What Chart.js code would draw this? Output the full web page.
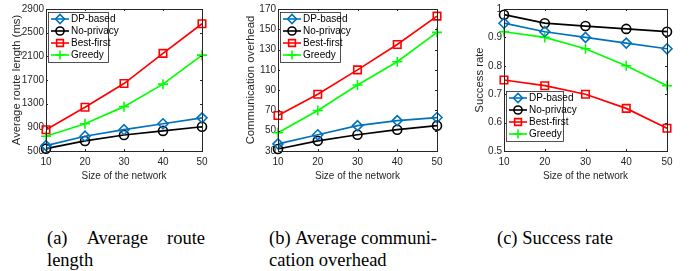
<!DOCTYPE html>
<html><head><meta charset="utf-8">
<script src="https://cdn.jsdelivr.net/npm/chart.js@4"></script>
<style>
html,body{margin:0;padding:0;background:#fff;width:693px;height:271px;overflow:hidden;}
.c{position:absolute;top:0;width:231px;height:200px;}
.cap{position:absolute;font-family:"Liberation Serif","Times New Roman",serif;font-size:18.5px;line-height:22px;color:#000;}
.l1{display:flex;justify-content:space-between;white-space:nowrap;}
</style></head><body>
<div class="c" style="left:0"><canvas id="c1" width="231" height="200"></canvas></div>
<div class="c" style="left:231px"><canvas id="c2" width="231" height="200"></canvas></div>
<div class="c" style="left:462px"><canvas id="c3" width="231" height="200"></canvas></div>
<div class="cap" style="left:47px;top:227px;width:158px"><div class="l1"><span>(a)</span><span>Average</span><span>route</span></div><div>length</div></div>
<div class="cap" style="left:269px;top:227px;width:168px"><div class="l1"><span>(b)</span><span>Average</span><span>communi-</span></div><div>cation overhead</div></div>
<div class="cap" style="left:497px;top:227px;width:170px"><div>(c) Success rate</div></div>
<script>
const networkSizes = [10, 20, 30, 40, 50];
const seriesNames = ['DP-based', 'No-privacy', 'Best-first', 'Greedy'];

const routeDP = [590, 750, 860, 960, 1060];
const routeNoPrivacy = [540, 670, 770, 840, 910];
const routeBestFirst = [860, 1240, 1640, 2150, 2650];
const routeGreedy = [750, 960, 1250, 1630, 2120];

const commDP = [37, 46, 55, 60, 63];
const commNoPrivacy = [32, 40, 46, 51, 55];
const commBestFirst = [65, 86, 110, 135, 163];
const commGreedy = [48, 70, 95, 118, 147];

const succDP = [0.95, 0.92, 0.90, 0.88, 0.86];
const succNoPrivacy = [0.98, 0.95, 0.94, 0.93, 0.92];
const succBestFirst = [0.75, 0.73, 0.70, 0.65, 0.58];
const succGreedy = [0.92, 0.90, 0.86, 0.80, 0.73];

const routeTicks = [500, 900, 1300, 1700, 2100, 2500, 2900];
const commTicks = [30, 50, 70, 90, 110, 130, 150, 170];
const succTicks = [0.5, 0.6, 0.7, 0.8, 0.9, 1];

const styles = [
  {color:'#0072BD', pointStyle:'rectRot', radius:5},
  {color:'#000000', pointStyle:'circle', radius:4.5},
  {color:'#FF0000', pointStyle:'rect', radius:5.3},
  {color:'#00FF00', pointStyle:'cross', radius:5}
];
const AX = '#262626';
const FONT = '"Liberation Sans", Arial, sans-serif';

function makeDatasets(arrs){
  return arrs.map((a,i)=>({
    label: seriesNames[i],
    data: networkSizes.map((x,j)=>({x:x,y:a[j]})),
    borderColor: styles[i].color,
    backgroundColor: 'rgba(0,0,0,0)',
    pointBackgroundColor: 'rgba(0,0,0,0)',
    pointBorderColor: styles[i].color,
    pointStyle: styles[i].pointStyle,
    pointRadius: styles[i].radius,
    pointBorderWidth: 1.6,
    borderWidth: 1.7,
    tension: 0,
    clip: false
  }));
}

const framePlugin = {
  id:'frame',
  afterDatasetsDraw(chart, args, opts){
    const ctx = chart.ctx, a = chart.chartArea;
    ctx.save();
    ctx.strokeStyle = AX; ctx.lineWidth = 1;
    ctx.strokeRect(Math.round(a.left)+0.5, Math.round(a.top)+0.5, Math.round(a.right-a.left), Math.round(a.bottom-a.top));
    const xs = chart.scales.x, ys = chart.scales.y;
    ctx.beginPath();
    xs.ticks.forEach(t=>{const p=Math.round(xs.getPixelForValue(t.value))+0.5; ctx.moveTo(p,a.bottom); ctx.lineTo(p,a.bottom-2); ctx.moveTo(p,a.top); ctx.lineTo(p,a.top+2);});
    ys.ticks.forEach(t=>{const p=Math.round(ys.getPixelForValue(t.value))+0.5; ctx.moveTo(a.left,p); ctx.lineTo(a.left+2,p); ctx.moveTo(a.right,p); ctx.lineTo(a.right-2,p);});
    ctx.stroke();
    const L = opts.legend;
    const bx = Math.round(a.left + L.dx), by = Math.round(L.bottom ? a.bottom - L.dy - L.h : a.top + L.dy);
    ctx.fillStyle = '#fff';
    ctx.fillRect(bx, by, L.w, L.h);
    ctx.strokeStyle = AX; ctx.lineWidth = 0.8;
    ctx.strokeRect(bx+0.5, by+0.5, L.w, L.h);
    ctx.font = '10px ' + FONT;
    ctx.textBaseline = 'middle';
    chart.data.datasets.forEach((ds,i)=>{
      const y = by + L.pad + L.gap*i + L.gap/2;
      const x0 = bx + 3, x1 = bx + 21;
      ctx.strokeStyle = ds.borderColor; ctx.lineWidth = 1.6;
      ctx.beginPath(); ctx.moveTo(x0,y); ctx.lineTo(x1,y); ctx.stroke();
      ctx.fillStyle = 'rgba(0,0,0,0)';
      Chart.helpers.drawPoint(ctx, {pointStyle: ds.pointStyle, radius: ds.pointRadius*0.9, borderWidth:1.6, rotation:0}, (x0+x1)/2, y);
      ctx.fillStyle = '#000';
      ctx.fillText(ds.label, x1 + 2, y+0.5);
    });
    ctx.restore();
  }
};

function makeChart(id, arrs, ticks, ymin, ymax, ytitle, padLeft, padRight, legend, titlePad){
  return new Chart(document.getElementById(id), {
    type:'line',
    data:{datasets: makeDatasets(arrs)},
    options:{
      responsive:false, animation:false, devicePixelRatio:1,
      layout:{padding:{top:9, right:padRight, left:0, bottom:0}},
      plugins:{legend:{display:false}, tooltip:{enabled:false}, frame:{legend:legend}},
      scales:{
        x:{type:'linear', min:10, max:50, offset:false,
           afterBuildTicks(s){ s.ticks = networkSizes.map(v=>({value:v})); },
           afterFit(s){ s.height = 49; },
           grid:{display:false, drawTicks:false}, border:{display:false},
           ticks:{color:AX, font:{family:FONT,size:10}, padding:5, maxRotation:0, callback:(v)=>String(v)},
           title:{display:true, text:'Size of the network', color:AX, font:{family:FONT,size:10}, padding:{top:0,bottom:18}}},
        y:{type:'linear', min:ymin, max:ymax,
           afterBuildTicks(s){ s.ticks = ticks.map(v=>({value:v})); },
           afterFit(s){ s.width = padLeft; },
           grid:{display:false, drawTicks:false}, border:{display:false},
           ticks:{color:AX, font:{family:FONT,size:10}, padding:2, callback:(v)=>String(v)},
           title:{display:true, text:ytitle, color:AX, font:{family:FONT,size:11.3}, padding:{top:titlePad,bottom:0}}}
      }
    },
    plugins:[framePlugin]
  });
}

makeChart('c1', [routeDP, routeNoPrivacy, routeBestFirst, routeGreedy], routeTicks, 500, 2900, 'Average route length (ms)', 46, 29,
  {dx:2, dy:3, w:60, h:50, pad:1, gap:12, bottom:false}, 10);
makeChart('c2', [commDP, commNoPrivacy, commBestFirst, commGreedy], commTicks, 30, 170, 'Communication overhead', 47, 25,
  {dx:2, dy:3, w:60, h:50, pad:1, gap:12, bottom:false}, 13);
makeChart('c3', [succDP, succNoPrivacy, succBestFirst, succGreedy], succTicks, 0.5, 1, 'Success rate', 42, 26,
  {dx:2, dy:10, w:57, h:50, pad:1, gap:12, bottom:true}, 11);
</script>
</body></html>
